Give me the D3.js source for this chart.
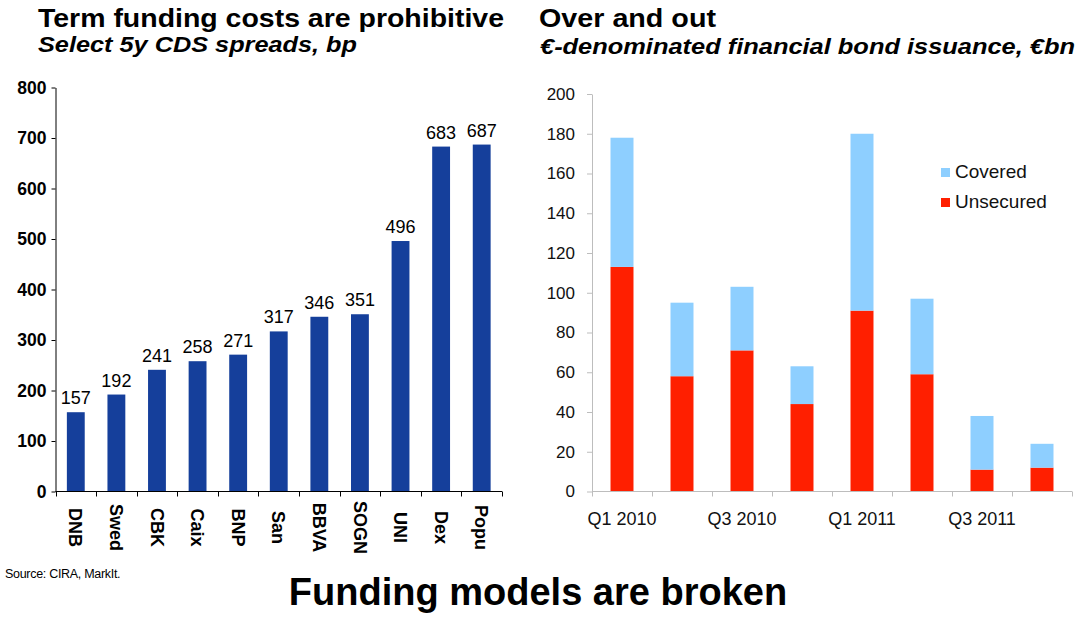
<!DOCTYPE html>
<html>
<head>
<meta charset="utf-8">
<script src="https://cdn.jsdelivr.net/npm/d3@7"></script>
<style>
  html, body { margin: 0; padding: 0; background: #fff; }
  svg { display: block; font-family: "Liberation Sans", Arial, sans-serif; }
</style>
</head>
<body>
<svg id="chart" width="1091" height="621"></svg>
<script>
// ---- Left chart data: Select 5y CDS spreads, bp
const banks = ["DNB", "Swed", "CBK", "Caix", "BNP", "San", "BBVA", "SOGN", "UNI", "Dex", "Popu"];
const spreads = [157, 192, 241, 258, 271, 317, 346, 351, 496, 683, 687];
const leftTicks = [0, 100, 200, 300, 400, 500, 600, 700, 800];

// ---- Right chart data: €-denominated financial bond issuance, €bn
const quarters = ["Q1 2010", "Q2 2010", "Q3 2010", "Q4 2010", "Q1 2011", "Q2 2011", "Q3 2011", "Q4 2011"];
const quarterLabels = ["Q1 2010", "", "Q3 2010", "", "Q1 2011", "", "Q3 2011", ""];
const unsecured = [113, 58, 71, 44, 91, 59, 11, 12];
const covered = [65, 37, 32, 19, 89, 38, 27, 12];
const rightTicks = [0, 20, 40, 60, 80, 100, 120, 140, 160, 180, 200];
const seriesNames = ["Covered", "Unsecured"];

const svg = d3.select("#chart");

// ---------- Titles ----------
function title(x, y, txt, size, len, italic) {
  svg.append("text").attr("x", x).attr("y", y)
    .attr("font-size", size).attr("font-weight", "bold")
    .attr("font-style", italic ? "italic" : "normal")
    .attr("textLength", len).attr("lengthAdjust", "spacingAndGlyphs")
    .attr("fill", "#000").text(txt);
}
title(38, 27, "Term funding costs are prohibitive", 25.5, 466, false);
title(38, 52, "Select 5y CDS spreads, bp", 21.5, 319, true);
title(539, 27, "Over and out", 25.5, 177, false);
title(540, 54, "€-denominated financial bond issuance, €bn", 21.5, 535, true);

// ---------- Left chart ----------
const xL = d3.scaleBand().domain(banks).range([55.5, 502]).paddingInner(0.56).paddingOuter(0.28);
const yL = d3.scaleLinear().domain([0, 800]).range([491.5, 87.5]);

const gL = svg.append("g");
gL.selectAll("rect.bar").data(banks).join("rect")
  .attr("class", "bar")
  .attr("x", d => xL(d))
  .attr("width", xL.bandwidth())
  .attr("y", (d, i) => yL(spreads[i]))
  .attr("height", (d, i) => yL(0) - yL(spreads[i]))
  .attr("fill", "#153f9b");

gL.selectAll("text.val").data(banks).join("text")
  .attr("class", "val")
  .attr("x", d => xL(d) + xL.bandwidth() / 2)
  .attr("y", (d, i) => yL(spreads[i]) - 8)
  .attr("text-anchor", "middle")
  .attr("font-size", 18)
  .attr("fill", "#000")
  .text((d, i) => spreads[i]);

const yAxisL = gL.append("g").attr("transform", `translate(${xL.range()[0]},0)`)
  .call(d3.axisLeft(yL).tickValues(leftTicks).tickSize(4).tickSizeOuter(0).tickPadding(5));
yAxisL.select(".domain").attr("stroke", "#000");
yAxisL.selectAll("line").attr("stroke", "#000");
yAxisL.selectAll("text").attr("font-size", 17.5).attr("font-weight", "bold")
  .attr("font-family", "'Liberation Sans', Arial, sans-serif").attr("fill", "#000");

// x axis baseline + boundary ticks
const stepL = xL.step();
const x0L = xL.range()[0], x1L = xL.range()[1];
gL.append("line").attr("x1", x0L).attr("x2", x1L).attr("y1", yL(0)).attr("y2", yL(0)).attr("stroke", "#000");
gL.selectAll("line.xt").data(d3.range(banks.length + 1)).join("line")
  .attr("class", "xt")
  .attr("x1", i => Math.round(x0L + i * stepL) + 0.5).attr("x2", i => Math.round(x0L + i * stepL) + 0.5)
  .attr("y1", yL(0)).attr("y2", yL(0) + 5).attr("stroke", "#000");

gL.selectAll("text.xl").data(banks).join("text")
  .attr("class", "xl")
  .attr("transform", d => `translate(${xL(d) + xL.bandwidth() / 2},${yL(0) + 36}) rotate(90)`)
  .attr("text-anchor", "middle")
  .attr("dy", "0.35em")
  .attr("font-size", 18).attr("font-weight", "bold").attr("fill", "#000")
  .text(d => d);

// ---------- Right chart ----------
const xR = d3.scaleBand().domain(quarters).range([592, 1072]).paddingInner(0.617).paddingOuter(0.3085);
const yR = d3.scaleLinear().domain([0, 200]).range([491.5, 94]);

const gR = svg.append("g");
const stackData = quarters.map((q, i) => ({ q, Unsecured: unsecured[i], Covered: covered[i] }));
const stack = d3.stack().keys(["Unsecured", "Covered"])(stackData);
const colors = { Unsecured: "#ff1f00", Covered: "#8ecfff" };

gR.selectAll("g.layer").data(stack).join("g")
  .attr("class", "layer")
  .attr("fill", d => colors[d.key])
  .selectAll("rect").data(d => d).join("rect")
  .attr("x", d => xR(d.data.q))
  .attr("width", xR.bandwidth())
  .attr("y", d => yR(d[1]))
  .attr("height", d => yR(d[0]) - yR(d[1]));

const yAxisR = gR.append("g").attr("transform", `translate(${xR.range()[0]},0)`)
  .call(d3.axisLeft(yR).tickValues(rightTicks).tickSize(5).tickSizeOuter(0).tickPadding(12));
yAxisR.select(".domain").attr("stroke", "#bdbdbd");
yAxisR.selectAll("line").attr("stroke", "#bdbdbd");
yAxisR.selectAll("text").attr("font-size", 17)
  .attr("font-family", "'Liberation Sans', Arial, sans-serif").attr("fill", "#111");

const stepR = xR.step();
const x0R = xR.range()[0], x1R = xR.range()[1];
gR.append("line").attr("x1", x0R).attr("x2", x1R).attr("y1", yR(0)).attr("y2", yR(0)).attr("stroke", "#bdbdbd");
gR.selectAll("line.xt").data(d3.range(quarters.length + 1)).join("line")
  .attr("class", "xt")
  .attr("x1", i => Math.round(x0R + i * stepR) + 0.5).attr("x2", i => Math.round(x0R + i * stepR) + 0.5)
  .attr("y1", yR(0)).attr("y2", yR(0) + 5).attr("stroke", "#bdbdbd");

gR.selectAll("text.xl").data(quarters).join("text")
  .attr("class", "xl")
  .attr("x", d => xR(d) + xR.bandwidth() / 2)
  .attr("y", 525)
  .attr("text-anchor", "middle")
  .attr("font-size", 18).attr("fill", "#111")
  .text((d, i) => quarterLabels[i]);

// legend
const leg = gR.selectAll("g.leg").data(seriesNames).join("g")
  .attr("class", "leg")
  .attr("transform", (d, i) => `translate(941,${168 + i * 30})`);
leg.append("rect").attr("width", 9).attr("height", 9).attr("fill", d => colors[d]);
leg.append("text").attr("x", 14).attr("y", 10).attr("font-size", 19).attr("fill", "#111").text(d => d);

// ---------- Footer ----------
svg.append("text").attr("x", 5).attr("y", 578).attr("font-size", 12.5).attr("letter-spacing", -0.3)
  .attr("fill", "#000").text("Source: CIRA, MarkIt.");
svg.append("text").attr("x", 538).attr("y", 605).attr("text-anchor", "middle")
  .attr("font-size", 38).attr("font-weight", "bold").attr("fill", "#000")
  .text("Funding models are broken");
</script>
</body>
</html>
